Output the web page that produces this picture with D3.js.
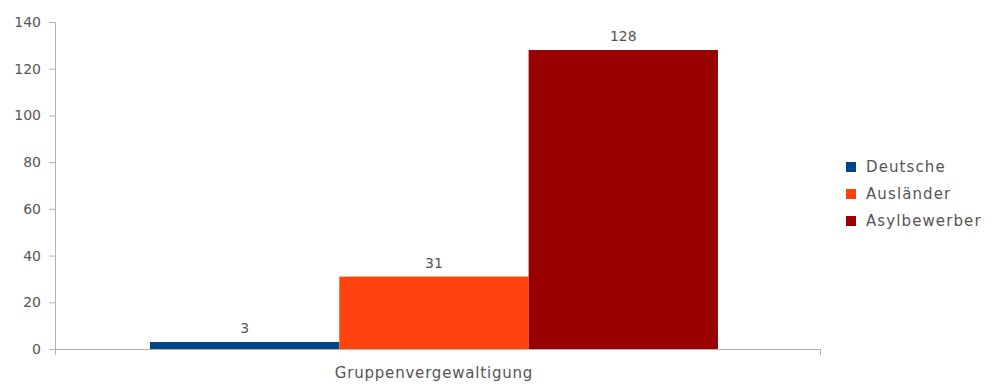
<!DOCTYPE html>
<html>
<head>
<meta charset="utf-8">
<script src="https://cdn.jsdelivr.net/npm/d3@7"></script>
<style>
  html, body { margin: 0; padding: 0; background: #fff; }
  svg text { font-family: "DejaVu Sans", Verdana, sans-serif; }
</style>
</head>
<body>
<div id="chart"></div>
<script>
// chart data
const categories = ["Gruppenvergewaltigung"];
const seriesNames = ["Deutsche", "Ausländer", "Asylbewerber"];
const seriesValues = [[3], [31], [128]];
const seriesColors = ["#004586", "#ff420e", "#990000"];
const yTicks = [0, 20, 40, 60, 80, 100, 120, 140];

const width = 991, height = 385;
const margin = { top: 22, right: 171, bottom: 36, left: 55 };
const plotW = width - margin.left - margin.right;
const plotH = height - margin.top - margin.bottom;

const svg = d3.select("#chart").append("svg")
    .attr("width", width)
    .attr("height", height);

const g = svg.append("g")
    .attr("transform", `translate(${margin.left},${margin.top})`);

const x0 = d3.scaleBand()
    .domain(categories)
    .range([0, plotW])
    .paddingInner(0)
    .paddingOuter(0.1734)
    .align(0.482);

const x1 = d3.scaleBand()
    .domain(seriesNames)
    .range([0, x0.bandwidth()]);

const y = d3.scaleLinear()
    .domain([0, 140])
    .range([plotH, 0]);

// Y axis
const yAxis = g.append("g")
    .call(d3.axisLeft(y).tickValues(yTicks).tickSize(6).tickPadding(8));
yAxis.selectAll("text")
    .style("font-size", "14px")
    .style("font-family", "'DejaVu Sans', sans-serif")
    .style("fill", "#555");
yAxis.selectAll(".domain, .tick line").attr("stroke", "#b3b3b3");

// X axis
const xAxis = g.append("g")
    .attr("transform", `translate(0,${plotH})`)
    .call(d3.axisBottom(d3.scaleLinear().domain([0, 1]).range([0, plotW]))
        .tickValues([0, 1]).tickFormat("").tickSize(6).tickSizeOuter(0));
xAxis.selectAll(".domain, .tick line").attr("stroke", "#b3b3b3");

g.append("text")
    .attr("x", x0(categories[0]) + x0.bandwidth() / 2)
    .attr("y", plotH + 29)
    .attr("text-anchor", "middle")
    .style("font-size", "15px")
    .style("letter-spacing", "0.8px")
    .style("fill", "#555")
    .text(categories[0]);

// bars
const rows = [];
seriesNames.forEach((s, i) => {
    categories.forEach((c, j) => {
        rows.push({ series: s, cat: c, value: seriesValues[i][j], color: seriesColors[i] });
    });
});

g.selectAll(".bar")
    .data(rows)
    .enter()
    .append("rect")
    .attr("class", "bar")
    .attr("x", d => x0(d.cat) + x1(d.series))
    .attr("y", d => y(d.value))
    .attr("width", x1.bandwidth())
    .attr("height", d => plotH - y(d.value))
    .attr("fill", d => d.color);

g.selectAll(".label")
    .data(rows)
    .enter()
    .append("text")
    .attr("class", "label")
    .attr("x", d => x0(d.cat) + x1(d.series) + x1.bandwidth() / 2)
    .attr("y", d => y(d.value) - 9)
    .attr("text-anchor", "middle")
    .style("font-size", "14px")
    .style("fill", "#555")
    .text(d => d.value);

// legend
const legend = svg.append("g")
    .attr("transform", "translate(846,162)");

seriesNames.forEach((s, i) => {
    const item = legend.append("g")
        .attr("transform", `translate(0,${i * 27})`);
    item.append("rect")
        .attr("width", 10)
        .attr("height", 10)
        .attr("fill", seriesColors[i]);
    item.append("text")
        .attr("x", 20)
        .attr("y", 10)
        .style("font-size", "15px")
        .style("letter-spacing", "1.1px")
        .style("fill", "#555")
        .text(s);
});
</script>
</body>
</html>
